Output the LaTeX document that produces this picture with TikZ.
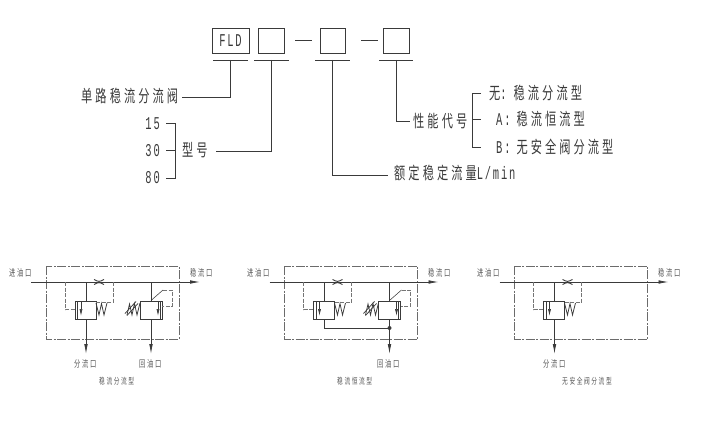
\documentclass[tikz,border=0pt]{standalone}
\usepackage{fontspec}
\usetikzlibrary{arrows.meta}
\newfontfamily\cjkfont[FakeStretch=.66,LetterSpace=18]{Noto Sans CJK SC}
\newfontfamily\latinfont[FakeStretch=.58,LetterSpace=10]{Liberation Mono}
\newcommand{\bigcjk}{\fontsize{17}{17}\selectfont\cjkfont}
\newcommand{\biglat}{\fontsize{18}{18}\selectfont\latinfont}
\definecolor{ink}{HTML}{3A3A3A}
\tikzset{
 line/.style={draw=ink,line width=.75pt},
 thinline/.style={draw=ink,line width=.55pt},
 pilot/.style={draw=ink!70,line width=.55pt,dash pattern=on 4pt off 1.5pt},
 frame/.style={draw=ink!75,line width=.6pt,dash pattern=on 9pt off 1.5pt on 2pt off 1.5pt},
 codebox/.style={draw=ink,line width=.8pt,minimum height=25pt,inner sep=0pt,text=ink},
 lab/.style={inner sep=0pt,text=ink,text height=14.5pt,text depth=1.5pt,font=\bigcjk},
 num/.style={inner sep=0pt,text=ink,text height=13pt,text depth=1pt,font=\biglat},
 port/.style={inner sep=0pt,text=ink!85,font=\fontsize{9.5}{10}\selectfont\cjkfont},
 caption/.style={inner sep=0pt,text=ink!85,font=\fontsize{8.7}{9}\selectfont\cjkfont},
 flow/.style={line,-{Latex[length=10pt,width=3.6pt]}},
}
% valve with spring on the right, pipe at x=86
\newcommand{\flowvalve}{
  \draw[line] (75,301) rectangle (96,319);
  \draw[thinline] (77.5,301) -- (77.5,319);
  \draw[thinline,-{Latex[length=7pt,width=3pt]}] (81,301) -- (81,316);
  \draw[line] (86,282) -- (86,301);
  \draw[line] (96,303) -- (99,315) -- (101.5,303.5) -- (104,315) -- (107,303);
  \draw[pilot] (65,282) -- (65,309.5) -- (75,309.5);
  \draw[pilot] (113,282) -- (113,302) -- (96,302);
  \draw[draw=ink,line width=.9pt] (94,279.5) .. controls (99,282) .. (104,279.5);
  \draw[draw=ink,line width=.9pt] (94,284.5) .. controls (99,282) .. (104,284.5);
}
% relief valve with adjustable spring on the left, pipe at x=151
\newcommand{\reliefvalve}{
  \draw[line] (140,301) rectangle (162,319);
  \draw[thinline] (160,301) -- (160,319);
  \draw[thinline,-{Latex[length=7pt,width=3pt]}] (158,301) -- (158,316);
  \draw[line] (151,282) -- (151,301);
  \draw[line] (140,303) -- (137,315) -- (134.5,303.5) -- (132,315) -- (129.5,304) -- (127,315);
  \draw[line] (125,313.5) -- (136,301.5);
  \draw[line] (127,315.5) -- (138,303.5);
  \draw[thinline] (151,300.5) -- (163,290);
  \draw[pilot] (163,290) -- (172,290) -- (172,306) -- (162,306);
}
\begin{document}
\begin{tikzpicture}[x=1pt,y=-1pt]
\useasboundingbox (0,0) rectangle (717,425);
% ---- order code
\node[codebox,minimum width=37pt,font=\biglat] (bFLD) at (230.5,40.5) {FLD};
\node[codebox,minimum width=26pt] (bModel) at (271,40.5) {};
\node[codebox,minimum width=25pt] (bRate) at (332.5,40.5) {};
\node[codebox,minimum width=26pt] (bPerf) at (396,40.5) {};
\draw[line] (295,40) -- (312,40);
\draw[line] (361,40) -- (378,40);
\draw[line] (213,60) -- (248,60);
\draw[line] (254,60) -- (289,60);
\draw[line] (315,60) -- (350,60);
\draw[line] (379,60) -- (413,60);
\coordinate (uFLD) at (230,60);
\coordinate (uModel) at (271,60);
\coordinate (uRate) at (332,60);
\coordinate (uPerf) at (396,60);
\node[lab,anchor=west] (tFLD) at (81,96) {单路稳流分流阀};
\node[lab,anchor=west] (tModel) at (182,149.5) {型号};
\node[lab,anchor=west] (tRate) at (394,173) {额定稳定流量{\biglat L/min}};
\node[lab,anchor=west] (tPerf) at (413,121.5) {性能代号};
\coordinate (eFLD) at (182,97);
\coordinate (eModel) at (216,151);
\coordinate (eRate) at (388,175);
\coordinate (ePerf) at (410,121);
\draw[line] (uFLD) |- (eFLD);
\draw[line] (uModel) |- (eModel);
\draw[line] (uRate) |- (eRate);
\draw[line] (uPerf) |- (ePerf);
\node[num,anchor=east] (n15) at (160,123) {15};
\node[num,anchor=east] (n30) at (160,150) {30};
\node[num,anchor=east] (n80) at (160,177) {80};
\draw[line] (166,123) -- (175,123) -- (175,178) -- (166,178);
\draw[line] (166,150) -- (175,150);
\draw[line] (481,93) -- (472,93) -- (472,147) -- (481,147);
\draw[line] (472,119) -- (481,119);
\node[lab,anchor=west] (o1) at (489,93) {无{\biglat :}\hspace*{7pt}稳流分流型};
\node[lab,anchor=west] (o2) at (496,119) {{\biglat A:}\hspace*{6pt}稳流恒流型};
\node[lab,anchor=west] (o3) at (496,147) {{\biglat B:}\hspace*{6pt}无安全阀分流型};
% ---- circuit 1
\draw[frame] (46,266) rectangle (179,339);
\draw[flow] (31,282) -- (200,282);
\flowvalve
\reliefvalve
\draw[flow] (86,319) -- (86,354);
\draw[flow] (151,319) -- (151,354);
\node[port,anchor=west] (a1) at (9,273) {进油口};
\node[port,anchor=west] (a2) at (190,273) {稳流口};
\node[port,anchor=west] (a3) at (74,364) {分流口};
\node[port,anchor=west] (a4) at (139,364) {回油口};
\node[caption,anchor=west] (a5) at (99,381) {稳流分流型};
% ---- circuit 2
\begin{scope}[shift={(238.5,0)}]
\draw[frame] (46,266) rectangle (179,339);
\draw[flow] (31,282) -- (200,282);
\flowvalve
\reliefvalve
\draw[line] (86,319) -- (86,328) -- (151,328);
\draw[line] (151,319) -- (151,328);
\draw[flow] (151,328) -- (151,354);
\fill[ink] (151,328) circle (2pt);
\end{scope}
\node[port,anchor=west] (b1) at (247,273) {进油口};
\node[port,anchor=west] (b2) at (428,273) {稳流口};
\node[port,anchor=west] (b3) at (377,364) {回油口};
\node[caption,anchor=west] (b4) at (337,381) {稳流恒流型};
% ---- circuit 3
\begin{scope}[shift={(468.5,0)}]
\draw[frame] (46,266) rectangle (179,339);
\draw[flow] (31,282) -- (200,282);
\flowvalve
\draw[flow] (86,319) -- (86,354);
\end{scope}
\node[port,anchor=west] (c1) at (477,273) {进油口};
\node[port,anchor=west] (c2) at (658,273) {稳流口};
\node[port,anchor=west] (c3) at (543,364) {分流口};
\node[caption,anchor=west] (c4) at (562,381) {无安全阀分流型};
\end{tikzpicture}
\end{document}
